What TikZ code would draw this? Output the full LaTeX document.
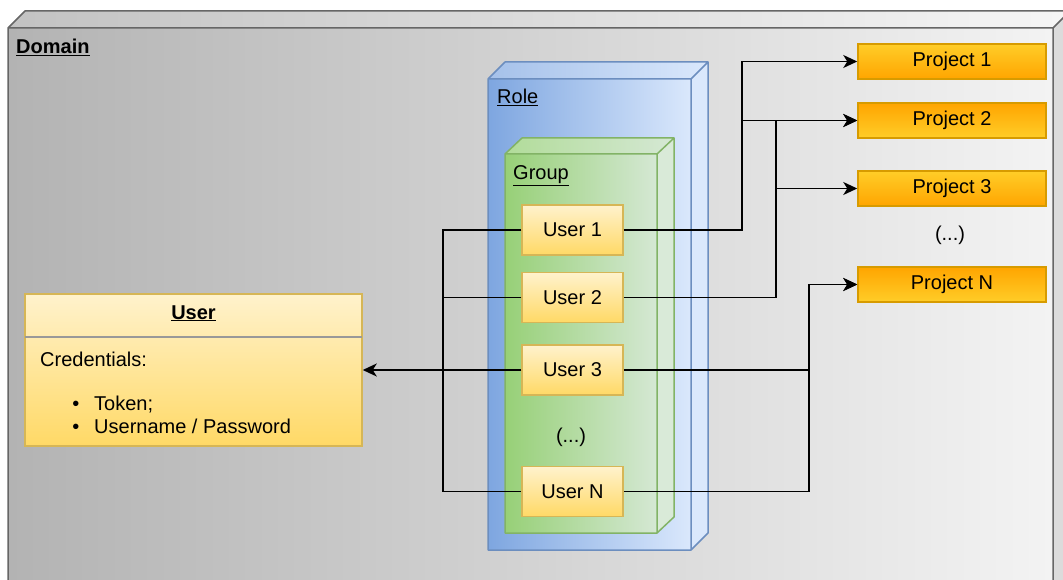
\documentclass[tikz,border=0pt]{standalone}
\usepackage{fontspec}
\setmainfont{Liberation Sans}
\usetikzlibrary{arrows.meta}
\definecolor{domStroke}{HTML}{666666}
\definecolor{domL}{HTML}{B3B3B3}
\definecolor{domR}{HTML}{F3F3F3}
\definecolor{roleStroke}{HTML}{6C8EBF}
\definecolor{roleL}{HTML}{7EA6E0}
\definecolor{roleR}{HTML}{DAE8FC}
\definecolor{grpStroke}{HTML}{82B366}
\definecolor{grpL}{HTML}{97D077}
\definecolor{grpR}{HTML}{D5E8D4}
\definecolor{usrStroke}{HTML}{D6B656}
\definecolor{usrT}{HTML}{FFF2CC}
\definecolor{usrB}{HTML}{FFD966}
\definecolor{prjStroke}{HTML}{D79B00}
\definecolor{prjY}{HTML}{FFCD28}
\definecolor{prjO}{HTML}{FFA500}
\begin{document}
\begin{tikzpicture}[x=1pt,y=-1pt,
  font=\fontsize{20}{24}\selectfont,
  userbox/.style={draw=usrStroke, line width=1.5pt, top color=usrT, bottom color=usrB,
    minimum width=101pt, minimum height=50pt, inner sep=0pt},
  projA/.style={draw=prjStroke, line width=1.5pt, top color=prjY, bottom color=prjO,
    minimum width=188pt, minimum height=35pt, inner sep=0pt},
  projB/.style={draw=prjStroke, line width=1.5pt, top color=prjO, bottom color=prjY,
    minimum width=188pt, minimum height=35pt, inner sep=0pt},
  conn/.style={line width=1.8pt, -{Stealth[length=14pt,width=13pt,inset=4pt]}},
  wire/.style={line width=1.8pt},
  lbl/.style={inner sep=0pt, anchor=base west},
]
\useasboundingbox (0,0) rectangle (1063,580);
\clip (0,0) rectangle (1063,580);

% Domain cube
\fill[left color=domL, right color=domR] (8,28) rectangle (1053,600);
\fill[left color=domL!80!white, right color=domR!80!white] (8,28) -- (25,11) -- (1070,11) -- (1053,28) -- cycle;
\fill[domR!90!black] (1053,28) -- (1070,11) -- (1070,583) -- (1053,600) -- cycle;
\draw[domStroke, line width=1.5pt, line join=round]
  (8,600) -- (8,28) -- (25,11) -- (1070,11)
  (8,28) -- (1053,28) -- (1070,11)
  (1053,28) -- (1053,600) -- (1070,583);
\node[lbl] (domlbl) at (16,54) {\textbf{\underline{Domain}}};

% Role cube
\fill[left color=roleL, right color=roleR] (488,79) rectangle (691,550);
\fill[left color=roleL!70!white, right color=roleR] (488,79) -- (505,62) -- (708,62) -- (691,79) -- cycle;
\fill[roleR] (691,79) -- (708,62) -- (708,533) -- (691,550) -- cycle;
\draw[roleStroke, line width=1.5pt, line join=round]
  (488,79) rectangle (691,550)
  (488,79) -- (505,62) -- (708,62) -- (691,79)
  (708,62) -- (708,533) -- (691,550);
\node[lbl] (rolelbl) at (497,104) {\underline{Role}};

% Group cube
\fill[left color=grpL, right color=grpR] (505,154) rectangle (657,533);
\fill[left color=grpL!75!white, right color=grpR] (505,154) -- (522,138) -- (674,138) -- (657,154) -- cycle;
\fill[grpR!90!white] (657,154) -- (674,138) -- (674,517) -- (657,533) -- cycle;
\draw[grpStroke, line width=1.5pt, line join=round]
  (505,154) rectangle (657,533)
  (505,154) -- (522,138) -- (674,138) -- (657,154)
  (674,138) -- (674,517) -- (657,533);
\node[lbl] (grplbl) at (513,180) {\underline{Group}};

% Users in group
\node[userbox] (u1) at (572.5,230) {User 1};
\node[userbox] (u2) at (572.5,297.5) {User 2};
\node[userbox] (u3) at (572.5,370) {User 3};
\node[inner sep=0pt] (udots) at (571,437) {(...)};
\node[userbox] (uN) at (572.5,491.5) {User N};

% Projects
\node[projA] (p1) at (952,61.5) {Project 1};
\node[projB] (p2) at (952,120.5) {Project 2};
\node[projA] (p3) at (952,188.5) {Project 3};
\node[inner sep=0pt] (pdots) at (950,235) {(...)};
\node[projB] (pN) at (952,284.5) {Project N};

% User class box
\node[draw=usrStroke, line width=1.5pt, top color=usrT, bottom color=usrB,
  minimum width=337pt, minimum height=152pt, inner sep=0pt] (cls) at (193.5,370) {};
\draw[gray!80, line width=1.2pt] (25,337) -- (362,337);
\node[inner sep=0pt, anchor=base] (clsname) at (193.5,319) {\textbf{\underline{User}}};
\node[lbl] (cred) at (40,366) {Credentials:};
\node[inner sep=0pt, anchor=base] (b1) at (76,410) {•};
\node[lbl] (tok) at (94,410) {Token;};
\node[inner sep=0pt, anchor=base] (b2) at (76,433) {•};
\node[lbl] (unp) at (94,433) {Username / Password};

% Left bus
\coordinate (lb1) at (443,230);
\coordinate (lbN) at (443,491.5);
\draw[wire] (u1.west) -- (lb1) -- (lbN) -- (uN.west);
\draw[wire] (u2.west) -- (u2.west -| lb1);
\draw[conn] (u3.west) -- (cls.east);

% Right connectors
\draw[conn] (u1.east) -- ++(118,0) |- (p1.west);
\draw[conn] (u1.east) -- ++(118,0) |- (p2.west);
\draw[conn] (u2.east) -- ++(152,0) |- (p2.west);
\draw[conn] (u2.east) -- ++(152,0) |- (p3.west);
\draw[conn] (u3.east) -- ++(185,0) |- (pN.west);
\draw[conn] (uN.east) -- ++(185,0) |- (pN.west);
\end{tikzpicture}
\end{document}
